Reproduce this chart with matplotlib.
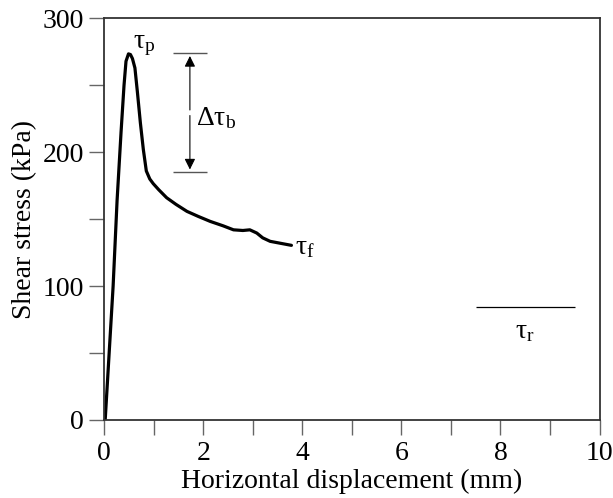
import matplotlib
matplotlib.use('Agg')
from matplotlib import pyplot as plt
from matplotlib.ticker import MultipleLocator

plt.rcParams['font.family'] = 'Liberation Serif'
plt.rcParams['mathtext.fontset'] = 'custom'
plt.rcParams['mathtext.rm'] = 'Liberation Serif'
plt.rcParams['mathtext.it'] = 'Liberation Serif:italic'

# shear stress vs horizontal displacement
disp = [0.02, 0.10, 0.18, 0.26, 0.34, 0.40, 0.44, 0.49, 0.53, 0.57, 0.62, 0.67, 0.73, 0.79,
        0.85, 0.92, 0.99, 1.10, 1.26, 1.45, 1.67, 1.90, 2.14, 2.40, 2.61, 2.80, 2.94, 3.08,
        3.20, 3.35, 3.55, 3.78]
stress = [0, 50, 100, 164, 215, 250, 268, 273.5, 273, 270, 263, 245, 222, 202,
          186, 180, 176.5, 172, 166, 161, 155.8, 152, 148.3, 145, 142, 141.5, 142, 139.6,
          136, 133.4, 132, 130.4]

tau_peak = 274
tau_fine = 185
tau_res = 84
bar_x = 1.73
res_span = [7.5, 9.5]

fig, ax = plt.subplots(figsize=(6.13, 4.98), dpi=100)
fig.subplots_adjust(left=0.17, right=0.978, top=0.963, bottom=0.157)

ax.plot(disp, stress, color='black', lw=2.3, solid_capstyle='round', solid_joinstyle='round')

# delta tau_b bracket
mid = (tau_peak + tau_fine) / 2
ax.hlines([tau_peak, tau_fine], bar_x - 0.34, bar_x + 0.34, color='#555555', lw=1)
ax.annotate('', xy=(bar_x, tau_peak), xytext=(bar_x, mid),
            arrowprops=dict(arrowstyle='-|>', color='black', lw=0.8, mutation_scale=16))
ax.annotate('', xy=(bar_x, tau_fine), xytext=(bar_x, mid),
            arrowprops=dict(arrowstyle='-|>', color='black', lw=0.8, mutation_scale=16))
ax.text(bar_x + 0.12, mid - 4, r'$\mathrm{Δτ_b}$', fontsize=20, va='center', ha='left')

# residual strength line
ax.hlines(tau_res, res_span[0], res_span[1], color='black', lw=0.9)
ax.text(sum(res_span) / 2, tau_res - 9, r'$\mathrm{τ_r}$', fontsize=20, ha='center', va='top')

ax.text(0.58, 280, r'$\mathrm{τ_p}$', fontsize=20, ha='left', va='center')
ax.text(3.85, 129, r'$\mathrm{τ_f}$', fontsize=20, ha='left', va='center')

ax.set_xlim(0, 10)
ax.set_ylim(0, 300)
ax.xaxis.set_major_locator(MultipleLocator(2))
ax.xaxis.set_minor_locator(MultipleLocator(1))
ax.yaxis.set_major_locator(MultipleLocator(100))
ax.yaxis.set_minor_locator(MultipleLocator(50))
ax.tick_params(which='both', direction='out', length=10.5, width=1, color='#666666',
               labelsize=20, top=False, right=False)
ax.tick_params(axis='x', which='both', pad=5)
ax.tick_params(axis='y', which='both', pad=4)
for s in ax.spines.values():
    s.set_linewidth(1.3)
    s.set_color('#333333')

ax.set_xlabel('Horizontal displacement (mm)', fontsize=20, labelpad=2)
ax.set_ylabel('Shear stress (kPa)', fontsize=20, labelpad=4)

plt.savefig('out.png')
